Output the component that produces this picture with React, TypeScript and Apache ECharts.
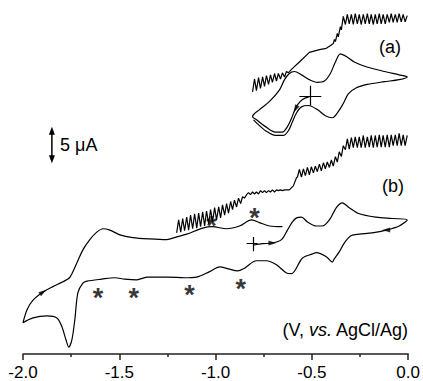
import React, { useEffect, useRef } from "react";
import * as echarts from "echarts";

// x: potential (V vs AgCl/Ag), y: current (µA, offset per trace)
const xTickLabels = ["-2.0", "-1.5", "-1.0", "-0.5", "0.0"];

// (b) cyclic voltammogram
const bCV_V = [-0.803,-0.756,-0.705,-0.658,-0.627,-0.601,-0.580,-0.554,-0.523,-0.477,-0.446,-0.409,-0.373,-0.342,-0.306,-0.254,-0.166,-0.083,-0.005,-0.047,-0.114,-0.187,-0.254,-0.295,-0.332,-0.358,-0.383,-0.394,-0.425,-0.477,-0.497,-0.549,-0.606,-0.632,-0.684,-0.736,-0.788,-0.850,-0.886,-0.933,-0.979,-1.031,-1.098,-1.161,-1.249,-1.352,-1.409,-1.472,-1.523,-1.591,-1.668,-1.689,-1.715,-1.731,-1.746,-1.762,-1.777,-1.798,-1.824,-1.876,-1.948,-2.000,-1.979,-1.948,-1.896,-1.845,-1.793,-1.756,-1.720,-1.689,-1.653,-1.617,-1.585,-1.549,-1.497,-1.430,-1.342,-1.254,-1.202,-1.150,-1.067,-1.016,-0.943,-0.876,-0.813,-0.772,-0.720,-0.653];
const bCV_I = [16.0,16.2,16.3,16.8,18.2,19.4,20.0,20.1,19.4,18.8,18.8,19.7,21.5,22.2,21.5,20.6,20.1,19.9,19.7,18.8,18.2,17.8,17.6,17.4,16.3,15.0,14.0,13.5,14.3,14.9,14.7,14.1,11.8,11.9,13.1,13.7,13.7,12.6,12.2,12.5,12.8,12.1,11.3,11.2,11.3,11.3,10.9,11.0,11.2,11.0,10.7,10.4,9.0,5.0,2.1,1.0,2.1,4.0,5.3,5.6,5.3,4.6,6.5,7.9,9.1,9.9,10.6,11.3,13.4,15.3,16.8,17.9,18.4,18.2,17.5,17.1,16.9,16.8,17.2,17.6,18.5,18.7,18.4,18.8,19.7,19.3,18.8,18.7];

// (b) staircase / sampled trace
const bRip_V = [-1.202,-1.192,-1.181,-1.171,-1.161,-1.150,-1.140,-1.130,-1.119,-1.109,-1.098,-1.088,-1.078,-1.067,-1.057,-1.047,-1.036,-1.026,-1.016,-1.005,-0.995,-0.984,-0.974,-0.964,-0.953,-0.943,-0.933,-0.922,-0.912,-0.902,-0.891,-0.881,-0.870,-0.860,-0.850,-0.839,-0.829,-0.819,-0.808,-0.798,-0.788,-0.777,-0.767,-0.756,-0.746,-0.736,-0.725,-0.715,-0.705,-0.694,-0.684,-0.674,-0.663,-0.653,-0.642,-0.617,-0.596,-0.580,-0.575,-0.565,-0.554,-0.544,-0.534,-0.523,-0.513,-0.503,-0.492,-0.482,-0.472,-0.461,-0.451,-0.440,-0.430,-0.420,-0.409,-0.399,-0.389,-0.378,-0.368,-0.358,-0.347,-0.337,-0.326,-0.316,-0.306,-0.295,-0.285,-0.275,-0.264,-0.254,-0.244,-0.233,-0.223,-0.212,-0.202,-0.192,-0.181,-0.171,-0.161,-0.150,-0.140,-0.130,-0.119,-0.109,-0.098,-0.088,-0.078,-0.067,-0.057,-0.047,-0.036,-0.026,-0.016,-0.005];
const bRip_I = [17.8,19.7,17.9,19.9,18.1,20.1,18.2,20.4,18.4,20.6,18.5,20.7,18.7,20.9,18.8,21.0,19.1,21.2,19.4,21.5,19.7,21.6,20.0,21.9,20.4,22.1,20.7,22.4,21.2,22.6,21.6,22.9,22.1,23.1,22.9,23.4,23.7,23.4,23.8,23.5,23.8,23.5,24.0,23.7,24.0,23.7,24.0,23.8,24.1,23.8,24.1,24.0,24.1,24.0,24.1,24.1,24.7,25.9,26.0,27.1,26.0,27.2,26.2,27.4,26.3,27.5,26.6,27.6,26.8,27.9,26.9,28.1,27.2,28.2,27.4,28.5,27.6,29.0,28.2,29.7,29.0,30.6,30.0,31.6,30.1,31.8,30.3,31.9,30.3,31.9,30.3,32.1,30.3,31.9,30.4,32.1,30.3,32.1,30.4,32.2,30.4,32.1,30.4,32.2,30.4,32.2,30.6,32.2,30.6,32.4,30.6,32.2,30.6,32.1];

// (a) cyclic voltammogram
const aCV_V = [-0.513,-0.549,-0.575,-0.591,-0.606,-0.627,-0.653,-0.689,-0.741,-0.782,-0.808,-0.772,-0.720,-0.668,-0.642,-0.617,-0.591,-0.554,-0.513,-0.472,-0.435,-0.404,-0.378,-0.352,-0.321,-0.280,-0.218,-0.124,-0.047,-0.005,-0.047,-0.124,-0.212,-0.269,-0.311,-0.337,-0.363,-0.394,-0.430,-0.472,-0.518,-0.554,-0.580,-0.601,-0.622,-0.648,-0.689,-0.741,-0.782,-0.803];
const aCV_I = [37.8,37.4,36.6,35.7,34.6,33.4,32.6,32.6,33.4,34.3,34.9,35.9,37.1,38.8,40.3,41.2,41.5,41.0,40.3,39.9,40.1,41.2,42.9,44.1,43.7,42.9,42.2,41.5,41.0,40.7,40.3,40.0,39.6,39.1,38.2,36.8,35.6,34.7,35.0,35.9,36.5,36.3,35.4,34.1,32.8,32.1,32.1,32.8,33.8,34.4];

// (a) staircase / sampled trace
const aRip_V = [-0.808,-0.798,-0.788,-0.777,-0.767,-0.756,-0.746,-0.736,-0.725,-0.715,-0.705,-0.694,-0.684,-0.674,-0.663,-0.653,-0.642,-0.632,-0.622,-0.606,-0.565,-0.513,-0.461,-0.425,-0.399,-0.389,-0.383,-0.378,-0.368,-0.363,-0.352,-0.347,-0.337,-0.326,-0.316,-0.306,-0.295,-0.285,-0.275,-0.264,-0.254,-0.244,-0.233,-0.223,-0.212,-0.202,-0.192,-0.181,-0.171,-0.161,-0.150,-0.140,-0.130,-0.119,-0.109,-0.098,-0.088,-0.078,-0.067,-0.057,-0.047,-0.036,-0.026,-0.016,-0.005];
const aRip_I = [38.5,40.4,38.7,40.6,39.0,40.7,39.3,40.9,39.6,41.0,39.9,41.2,40.1,41.2,40.4,41.3,40.7,41.5,41.3,41.8,42.9,44.3,44.7,44.9,45.4,45.6,46.2,45.9,47.1,46.6,48.1,47.6,49.6,48.4,49.9,48.5,49.9,48.4,50.0,48.5,49.9,48.4,49.9,48.5,50.0,48.5,49.9,48.4,49.9,48.5,50.0,48.5,49.9,48.5,49.9,48.7,50.0,48.7,49.9,48.7,50.0,48.8,49.9,48.8,49.7];

// starting-point crosses [x1, y1, x2, y2]
const crossSegments = [
  [-0.565, 37.9, -0.451, 37.9],
  [-0.508, 39.4, -0.508, 36.5],
  [-0.839, 16.2, -0.782, 16.2],
  [-0.803, 17.2, -0.803, 15.1],
];

// scan-direction arrows: V, I, rotation
const arrowV = [-0.705, -0.114, -1.896, -0.585];
const arrowI = [16.3, 18.2, 9.1, 36.0];
const arrowRot = [-90, 90, -57, 153];

// peaks marked with asterisks
const starV = [-1.611, -1.425, -1.135, -0.870, -1.021, -0.798];
const starI = [9.1, 9.1, 9.6, 10.4, 19.7, 20.9];

// 5 µA scale bar
const scaleV = -1.85;
const scaleI = [28.6, 32.8];

const FONT = "'Liberation Sans', Arial, Helvetica, sans-serif";

const pairs = (xs: number[], ys: number[]) => xs.map((x, i) => [x, ys[i]]);

export default function App() {
  const ref = useRef<HTMLDivElement>(null);
  useEffect(() => {
    if (!ref.current) return;
    const chart = echarts.init(ref.current, undefined, { renderer: "svg" });
    const lineStyle = { color: "#000", width: 1.2 };
    const axisColor = "#222";
    chart.setOption({
      animation: false,
      backgroundColor: "#fff",
      grid: { left: 23, right: 14, top: 0, bottom: 27 },
      xAxis: {
        type: "value",
        min: -2,
        max: 0,
        interval: 0.5,
        axisLine: { lineStyle: { color: axisColor, width: 1.5 } },
        axisTick: { length: 6, lineStyle: { color: axisColor, width: 1.5 } },
        minorTick: { show: true, splitNumber: 2, length: 3, lineStyle: { color: axisColor, width: 1.5 } },
        splitLine: { show: false },
        axisLabel: {
          fontSize: 17,
          color: "#000",
          margin: 10,
          fontFamily: FONT,
          formatter: (v: number) => {
            const idx = Math.round((v + 2) / 0.5);
            return xTickLabels[idx] ?? "";
          },
        },
      },
      yAxis: { type: "value", min: 0, max: 52, show: false },
      series: [
        { type: "line", data: pairs(bCV_V, bCV_I), smooth: 0.3, symbol: "none", lineStyle, z: 2 },
        { type: "line", data: pairs(bRip_V, bRip_I), smooth: false, symbol: "none", lineStyle, z: 2 },
        { type: "line", data: pairs(aCV_V, aCV_I), smooth: 0.3, symbol: "none", lineStyle, z: 2 },
        { type: "line", data: pairs(aRip_V, aRip_I), smooth: false, symbol: "none", lineStyle, z: 2 },
        {
          type: "lines",
          coordinateSystem: "cartesian2d",
          data: crossSegments.map((s) => ({ coords: [[s[0], s[1]], [s[2], s[3]]] })),
          lineStyle: { color: "#000", width: 1.2, opacity: 1 },
          z: 3,
        },
        {
          type: "scatter",
          data: arrowV.map((v, i) => ({ value: [v, arrowI[i]], symbolRotate: arrowRot[i] })),
          symbol: "triangle",
          symbolSize: [5, 8],
          itemStyle: { color: "#000" },
          z: 4,
        },
        {
          type: "scatter",
          data: pairs(starV, starI),
          symbolSize: 1,
          itemStyle: { color: "transparent" },
          label: {
            show: true,
            position: "inside",
            formatter: "*",
            fontSize: 27,
            fontWeight: "bold",
            fontFamily: FONT,
            color: "#000",
            offset: [0, 6],
          },
          z: 4,
        },
        {
          type: "line",
          data: [
            { value: [scaleV, scaleI[0]], symbol: "triangle", symbolRotate: 180 },
            { value: [scaleV, scaleI[1]], symbol: "triangle", symbolRotate: 0 },
          ],
          symbolSize: [6, 8],
          showSymbol: true,
          itemStyle: { color: "#000" },
          lineStyle: { color: "#000", width: 1.5 },
          z: 4,
        },
      ],
      graphic: [
        { type: "text", left: 60, top: 136, style: { text: "5 μA", font: `18px ${FONT}`, fill: "#000" } },
        { type: "text", left: 379, top: 38, style: { text: "(a)", font: `18px ${FONT}`, fill: "#000" } },
        { type: "text", left: 382, top: 177, style: { text: "(b)", font: `18px ${FONT}`, fill: "#000" } },
        {
          type: "text",
          right: 14,
          top: 321,
          style: {
            text: "{n|(V, }{i|vs.}{n| AgCl/Ag)}",
            rich: {
              n: { fontSize: 18, fontFamily: FONT, fill: "#000" },
              i: { fontSize: 18, fontFamily: FONT, fontStyle: "italic", fill: "#000" },
            },
          },
        },
      ],
    });
    return () => chart.dispose();
  }, []);
  return (
    <div
      ref={ref}
      style={{ position: "fixed", left: 0, top: 0, width: 423, height: 381, background: "#fff" }}
    />
  );
}
